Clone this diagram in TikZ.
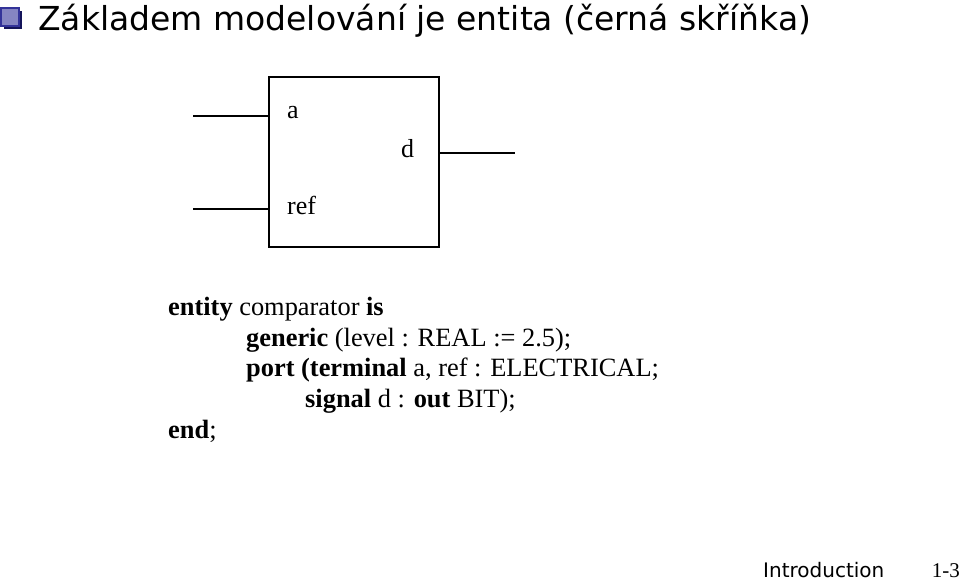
\documentclass[tikz,border=0pt]{standalone}
\usepackage{fontspec}
\setmainfont{Liberation Serif}
\newfontfamily\titlefont{DejaVu Sans}
\usepackage{xcolor}
\definecolor{bulletblue}{RGB}{51,51,153}
\definecolor{bulletshade}{RGB}{20,20,90}

\tikzset{
  portline/.style={line width=1.3pt},
  portlabel/.style={font=\fontsize{26}{26}\selectfont, inner sep=0pt},
  codeline/.style={font=\fontsize{26.4}{26.4}\selectfont, anchor=base west, inner sep=0pt},
}

\begin{document}
\begin{tikzpicture}[x=1pt,y=-1pt]
  \useasboundingbox (0,0) rectangle (960,580);
  % title with bullet
  \fill[bulletshade] (4,11) rectangle (22,29);
  \fill[bulletblue!60!white] (1,8) rectangle (19,26);
  \draw[bulletblue, line width=1.2pt] (1,8) rectangle (19,26);
  \node[anchor=base west, inner sep=0pt, font=\titlefont\fontsize{33}{33}\selectfont]
    (title) at (38,31) {Základem modelování je entita (černá skříňka)};
  % the black box
  \node[draw, line width=1.3pt, minimum width=170pt, minimum height=170pt,
    inner sep=0pt] (box) at (354,162) {};
  \coordinate (inA) at (193,116);
  \coordinate (inRef) at (193,209);
  \coordinate (outD) at (515,153);
  \draw[portline] (inA) -- (inA -| box.west);
  \draw[portline] (inRef) -- (inRef -| box.west);
  \draw[portline] (outD -| box.east) -- (outD);
  \node[portlabel, anchor=base west] (lblA) at (287,119) {a};
  \node[portlabel, anchor=base west] (lblRef) at (287,214) {ref};
  \node[portlabel, anchor=base west] (lblD) at (401,158) {d};
  % entity declaration
  \node[codeline] (l1) at (168,315) {\textbf{entity} comparator \textbf{is}};
  \node[codeline] (l2) at (246,346) {\textbf{generic} (level : REAL := 2.5);};
  \node[codeline] (l3) at (246,376) {\textbf{port (terminal} a, ref : ELECTRICAL;};
  \node[codeline] (l4) at (305,407) {\textbf{signal} d : \textbf{out} BIT);};
  \node[codeline] (l5) at (168,438) {\textbf{end};};
  % footer
  \node[anchor=base west, inner sep=0pt, font=\titlefont\fontsize{20}{20}\selectfont]
    (foot) at (763,577) {Introduction};
  \node[anchor=base east, inner sep=0pt, font=\fontsize{21}{21}\selectfont]
    (page) at (960,577) {1-3};
\end{tikzpicture}
\end{document}
